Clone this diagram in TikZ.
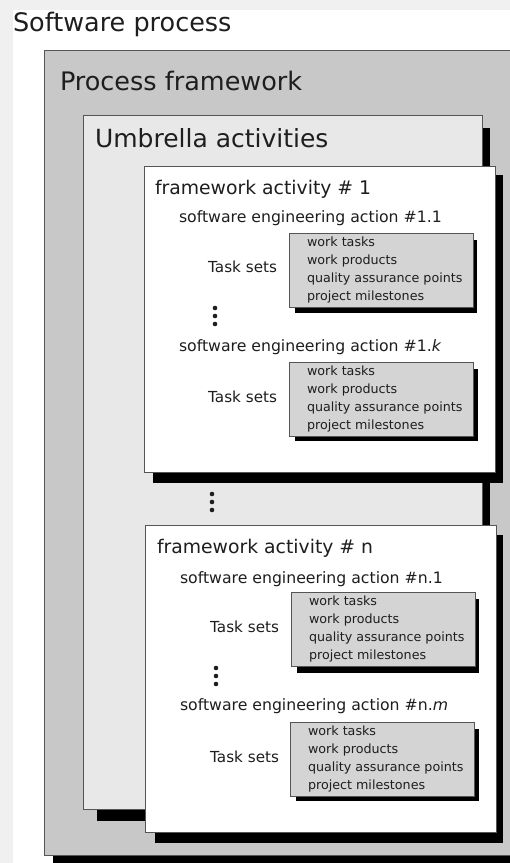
\documentclass[tikz,border=0pt]{standalone}
\usepackage{fontspec}
\setmainfont{DejaVu Sans}
\definecolor{bgout}{HTML}{F0F0F0}
\definecolor{pfgray}{HTML}{C8C8C8}
\definecolor{umgray}{HTML}{E8E8E8}
\definecolor{tkgray}{HTML}{D4D4D4}
\definecolor{edge}{HTML}{555555}
\definecolor{ink}{HTML}{1E1E1E}
\begin{document}
\begin{tikzpicture}[x=1pt,y=-1pt,
  every node/.style={inner sep=0pt, outer sep=0pt, text=ink},
  frame/.style={draw=edge, line width=0.8pt, anchor=north west},
  shade/.style={fill=black},
  bigtitle/.style={anchor=base west, font=\fontsize{25.5}{30}\selectfont},
  fatitle/.style={anchor=base west, font=\fontsize{18.8}{22}\selectfont},
  actitle/.style={anchor=base west, font=\fontsize{15.7}{19}\selectfont},
  tasksets/.style={anchor=base east, font=\fontsize{15.2}{19}\selectfont},
  taskbox/.style={frame, fill=tkgray, minimum width=184, minimum height=74},
  tasktext/.style={anchor=west, align=left, font=\fontsize{12.7}{17.8}\selectfont},
  dot/.style={circle, fill=ink, minimum size=4.6pt}
]
\useasboundingbox (0,0) rectangle (510,863);
\clip (0,0) rectangle (510,863);
\fill[bgout] (0,0) rectangle (510,863);
\fill[white] (13,10) rectangle (520,870);
\node[bigtitle] (swp) at (13,31) {Software process};

% Process framework
\node[frame, fill=pfgray, minimum width=490, minimum height=805] (pf) at (44,50) {};
\fill[shade] ([xshift=9pt,yshift=-1pt]pf.south west) rectangle ([xshift=9pt,yshift=-12pt]pf.south east);
\node[bigtitle] (pft) at (60,90) {Process framework};

% Umbrella activities
\fill[shade] (97,128) rectangle (490,821);
\node[frame, fill=umgray, minimum width=399, minimum height=694] (ua) at (83,115) {};
\node[bigtitle, font=\fontsize{25}{30}\selectfont] (uat) at (95,147) {Umbrella activities};

% Framework activity 1
\fill[shade] (153,175) rectangle (503,483);
\node[frame, fill=white, minimum width=351, minimum height=306] (fa1) at (144,166) {};
\node[fatitle] (fa1t) at (155,194) {framework activity \# 1};
\node[actitle] (a11) at (179,222) {software engineering action \#1.1};
\fill[shade] (295,240) rectangle (477,313);
\node[taskbox] (t1) at (289,233) {};
\node[tasktext] (t1x) at ([xshift=18pt]t1.west) {work tasks\\work products\\quality assurance points\\project milestones};
\node[tasksets] (ts1) at (277,272) {Task sets};
\node[dot] (d11) at (215,308) {};
\node[dot] (d12) at (215,316) {};
\node[dot] (d13) at (215,324) {};
\node[actitle] (a1k) at (179,351) {software engineering action \#1.\textit{k}};
\fill[shade] (295,369) rectangle (478,441);
\node[taskbox] (t2) at (289,362) {};
\node[tasktext] (t2x) at ([xshift=18pt]t2.west) {work tasks\\work products\\quality assurance points\\project milestones};
\node[tasksets] (ts2) at (277,402) {Task sets};

% dots between activities
\node[dot] (d21) at (212,494) {};
\node[dot] (d22) at (212,502) {};
\node[dot] (d23) at (212,510) {};

% Framework activity n
\fill[shade] (155,535) rectangle (503,843);
\node[frame, fill=white, minimum width=351, minimum height=307] (fan) at (145,525) {};
\node[fatitle] (fant) at (157,553) {framework activity \# n};
\node[actitle] (an1) at (180,583) {software engineering action \#n.1};
\fill[shade] (297,599) rectangle (479,673);
\node[taskbox] (t3) at (291,592) {};
\node[tasktext] (t3x) at ([xshift=18pt]t3.west) {work tasks\\work products\\quality assurance points\\project milestones};
\node[tasksets] (ts3) at (279,632) {Task sets};
\node[dot] (d31) at (216,668) {};
\node[dot] (d32) at (216,676) {};
\node[dot] (d33) at (216,684) {};
\node[actitle] (anm) at (180,710) {software engineering action \#n.\textit{m}};
\fill[shade] (296,729) rectangle (479,801);
\node[taskbox] (t4) at (290,722) {};
\node[tasktext] (t4x) at ([xshift=18pt]t4.west) {work tasks\\work products\\quality assurance points\\project milestones};
\node[tasksets] (ts4) at (279,762) {Task sets};
\end{tikzpicture}
\end{document}
